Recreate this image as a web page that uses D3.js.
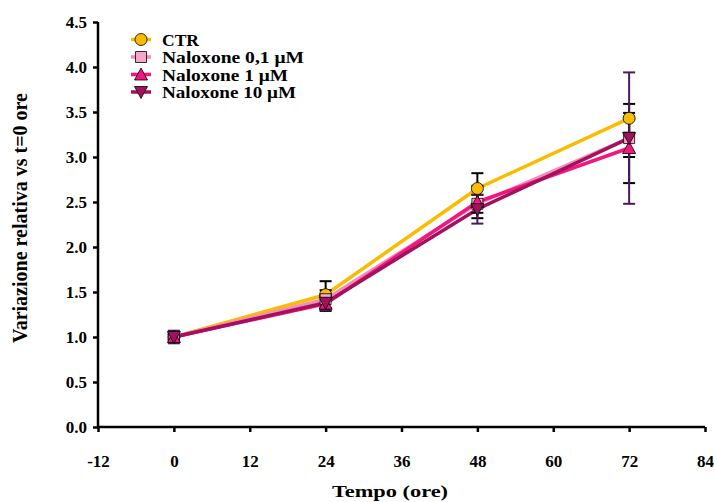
<!DOCTYPE html>
<html>
<head>
<meta charset="utf-8">
<script src="https://cdn.jsdelivr.net/npm/d3@7"></script>
<style>
  html, body { margin: 0; padding: 0; background: #ffffff; }
  svg text { font-family: "Liberation Serif", "Times New Roman", serif; font-weight: bold; fill: #000; }
</style>
</head>
<body>
<svg id="chart" width="714" height="502"></svg>
<script>
// Time points (hours)
const hours = [0, 24, 48, 72];

// Relative change vs t=0, mean per group
const ctrMean   = [1.00, 1.47, 2.65, 3.43];
const nal01Mean = [1.00, 1.42, 2.48, 3.21];
const nal1Mean  = [1.00, 1.37, 2.50, 3.10];
const nal10Mean = [1.00, 1.38, 2.42, 3.21];

// Error (± SE) per group
const ctrErr   = [0.03, 0.15, 0.17, 0.16];
const nal01Err = [0.03, 0.10, 0.10, 0.21];
const nal1Err  = [0.03, 0.08, 0.18, 0.39];
const nal10Err = [0.07, 0.08, 0.16, 0.73];

// Axis ticks
const xTicks = [-12, 0, 12, 24, 36, 48, 60, 72, 84];
const yTicks = [0, 0.5, 1, 1.5, 2, 2.5, 3, 3.5, 4, 4.5];

const seriesNames = ["CTR", "Naloxone 0,1 \u03BCM", "Naloxone 1 \u03BCM", "Naloxone 10 \u03BCM"];

const series = [
  { name: seriesNames[0], mean: ctrMean,   err: ctrErr,   line: "#F9BC00", fill: "#F9BC00", sym: "circle",  errColor: "#000000", legW: 37 },
  { name: seriesNames[1], mean: nal01Mean, err: nal01Err, line: "#F58DB8", fill: "#F7A6CA", sym: "square",  errColor: "#000000", legW: 142 },
  { name: seriesNames[2], mean: nal1Mean,  err: nal1Err,  line: "#F2167F", fill: "#F2167F", sym: "triUp",   errColor: "#000000", legW: 126 },
  { name: seriesNames[3], mean: nal10Mean, err: nal10Err, line: "#A3115E", fill: "#A3115E", sym: "triDown", errColor: "#4A1A5E", legW: 134 }
];

const svg = d3.select("#chart");

const x = d3.scaleLinear().domain([-12, 84]).range([98, 705]);
const y = d3.scaleLinear().domain([0, 4.5]).range([427, 22]);

// Axes
const xAxis = d3.axisBottom(x).tickValues(xTicks).tickSize(5).tickPadding(23)
  .tickFormat(d => String(d));
const yAxis = d3.axisLeft(y).tickValues(yTicks).tickSize(5).tickPadding(6)
  .tickFormat(d3.format(".1f"));

const gx = svg.append("g").attr("transform", `translate(0,${y(0)})`).call(xAxis);
const gy = svg.append("g").attr("transform", `translate(${x(-12)},0)`).call(yAxis);

[gx, gy].forEach(g => {
  g.select(".domain").attr("stroke", "#000").attr("stroke-width", 2.5);
  g.selectAll(".tick line").attr("stroke", "#000").attr("stroke-width", 2.5);
  g.selectAll(".tick text").attr("fill", "#000")
    .style("font-family", "'Liberation Serif', serif")
    .style("font-weight", "bold").style("font-size", "17px");
});
gx.select(".domain").attr("d", `M${x(-12)},0H${x(84)}`);
gy.select(".domain").attr("d", `M0,${y(0)}V${y(4.5)}`);

// Axis titles
svg.append("text")
  .attr("x", 390).attr("y", 497)
  .attr("text-anchor", "middle")
  .attr("textLength", 116)
  .attr("lengthAdjust", "spacingAndGlyphs")
  .style("font-size", "17px")
  .text("Tempo (ore)");

svg.append("text")
  .attr("transform", "translate(27,218) rotate(-90)")
  .attr("text-anchor", "middle")
  .style("font-size", "20px")
  .text("Variazione relativa vs t=0 ore");

// Marker shapes
function markerPath(sym, s) {
  const h = s / 2;
  if (sym === "square") return `M${-h},${-h}H${h}V${h}H${-h}Z`;
  if (sym === "triUp") return `M0,${-h - 1}L${h + 1},${h}L${-h - 1},${h}Z`;
  if (sym === "triDown") return `M0,${h + 1}L${h + 1},${-h}L${-h - 1},${-h}Z`;
  return null;
}
function drawMarker(g, sym, fill, cx, cy, s) {
  if (sym === "circle") {
    g.append("circle").attr("cx", cx).attr("cy", cy).attr("r", s / 2 + 0.5)
      .attr("fill", fill).attr("stroke", "#000").attr("stroke-width", 0.8);
  } else {
    g.append("path").attr("d", markerPath(sym, s))
      .attr("transform", `translate(${cx},${cy})`)
      .attr("fill", fill).attr("stroke", "#000").attr("stroke-width", 0.8);
  }
}

const line = d3.line().x(d => x(d[0])).y(d => y(d[1]));

// Lines
series.forEach(s => {
  svg.append("path")
    .datum(hours.map((h, i) => [h, s.mean[i]]))
    .attr("d", line)
    .attr("fill", "none")
    .attr("stroke", s.line)
    .attr("stroke-width", 3.5)
    .attr("stroke-linejoin", "round");
});

// Error bars
const capHalf = 6;
series.forEach(s => {
  const g = svg.append("g");
  hours.forEach((h, i) => {
    const cx = x(h);
    const top = y(s.mean[i] + s.err[i]);
    const bot = y(s.mean[i] - s.err[i]);
    g.append("line").attr("x1", cx).attr("x2", cx).attr("y1", top).attr("y2", bot)
      .attr("stroke", s.errColor).attr("stroke-width", 2);
    [top, bot].forEach(yy => {
      g.append("line").attr("x1", cx - capHalf).attr("x2", cx + capHalf)
        .attr("y1", yy).attr("y2", yy)
        .attr("stroke", s.errColor).attr("stroke-width", 2);
    });
  });
});

// Markers
const markerSize = 11;
series.forEach(s => {
  const g = svg.append("g");
  hours.forEach((h, i) => drawMarker(g, s.sym, s.fill, x(h), y(s.mean[i]), markerSize));
});

// Legend
const legY = [39.5, 57, 74.5, 92];
series.forEach((s, i) => {
  const g = svg.append("g");
  g.append("line").attr("x1", 131).attr("x2", 151).attr("y1", legY[i]).attr("y2", legY[i])
    .attr("stroke", s.line).attr("stroke-width", 3.5);
  drawMarker(g, s.sym, s.fill, 141, legY[i], markerSize);
  g.append("text").attr("x", 162).attr("y", legY[i] + 6)
    .attr("textLength", s.legW)
    .attr("lengthAdjust", "spacingAndGlyphs")
    .style("font-size", "16.5px").text(s.name);
});
</script>
</body>
</html>
